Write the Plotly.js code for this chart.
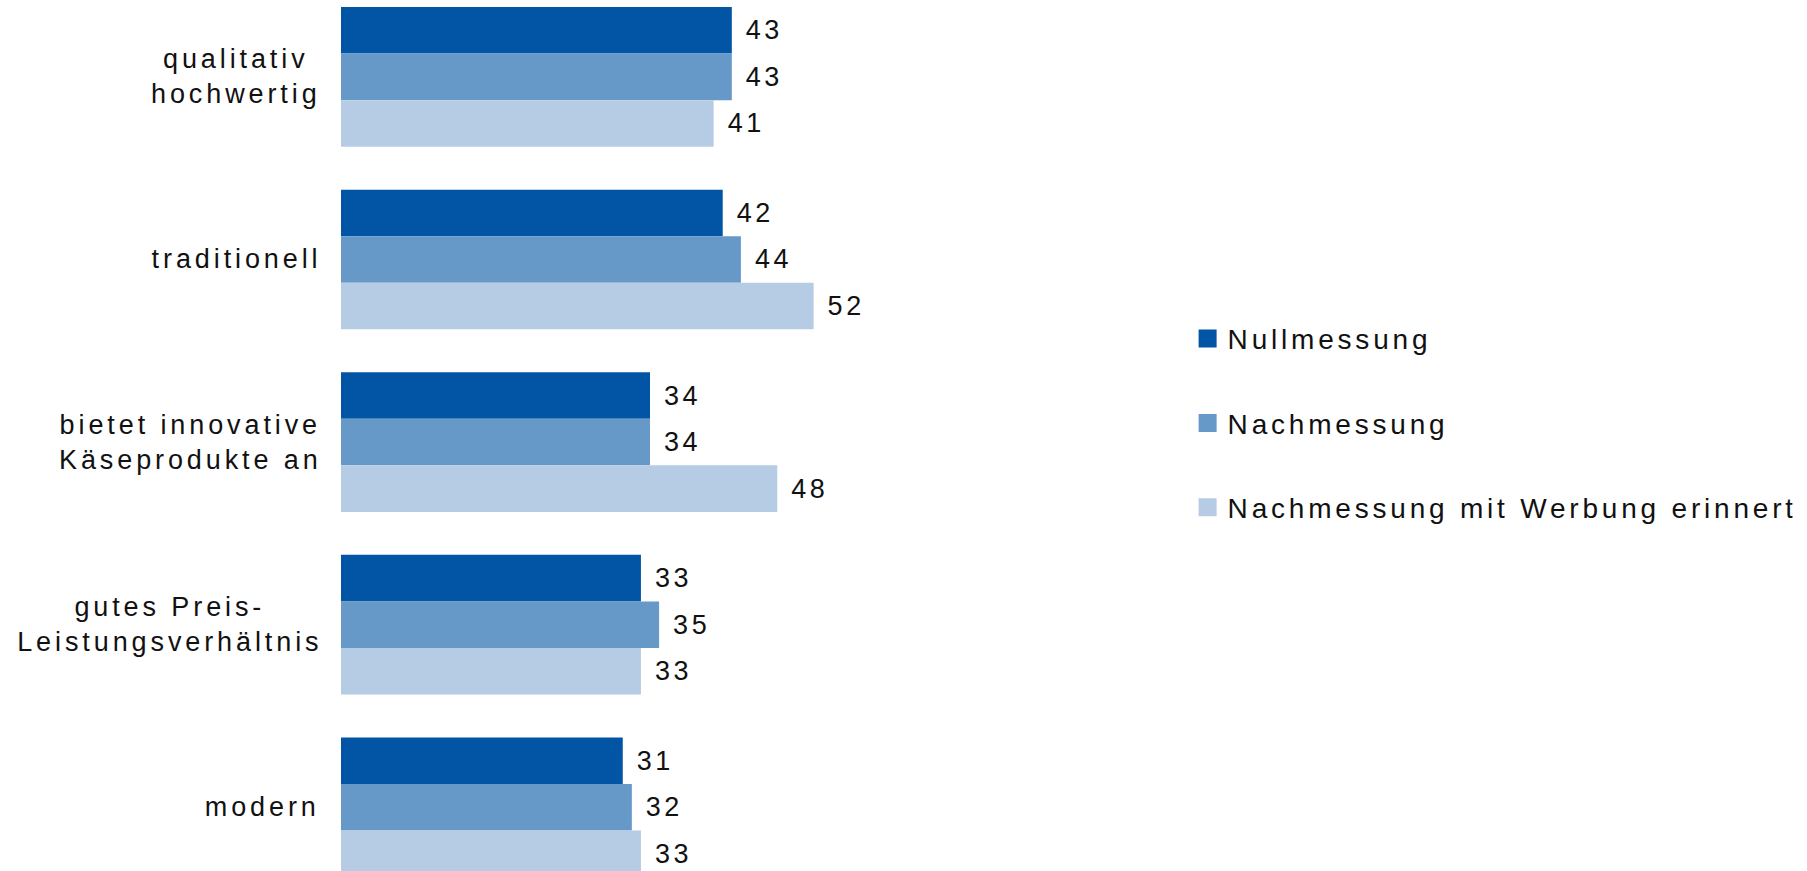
<!DOCTYPE html>
<html>
<head>
<meta charset="utf-8">
<script src="https://cdn.plot.ly/plotly-3.0.1.min.js"></script>
<style>
  html, body { margin: 0; padding: 0; background: #fff; }
  #chart { width: 1807px; height: 871px; }
  text { letter-spacing: 3.5px !important; }
  .annotation text { letter-spacing: 3.9px !important; }
  .legend text { letter-spacing: 3.8px !important; }
  .legend .legendpoints path { d: path("M9,9H-9V-9H9Z"); }
</style>
</head>
<body>
<div id="chart"></div>
<script>
// Categories (top to bottom)
const categories = [
  "qualitativ<br>hochwertig",
  "traditionell",
  "bietet innovative<br>Käseprodukte an",
  "gutes Preis-<br>Leistungsverhältnis",
  "modern"
];
const seriesNames = ["Nullmessung", "Nachmessung", "Nachmessung mit Werbung erinnert"];
const nullmessung = [43, 42, 34, 33, 31];
const nachmessung = [43, 44, 34, 35, 32];
const nachmessungWerbung = [41, 52, 48, 33, 33];
const colors = ["#0254A5", "#6698C8", "#B5CCE4"];

const seriesValues = [nullmessung, nachmessung, nachmessungWerbung];
const FONT = "'Liberation Sans', Arial, sans-serif";

const traces = seriesValues.map((vals, i) => ({
  type: "bar",
  orientation: "h",
  name: seriesNames[i],
  legendgroup: "g" + i,
  x: vals,
  y: categories,
  marker: { color: colors[i], line: { width: 0 } },
  text: vals.map(v => String(v)),
  texttemplate: "\u00a0%{text}",
  textposition: "outside",
  textfont: { family: FONT, size: 27, color: "#111111" },
  cliponaxis: false,
  hoverinfo: "x+name"
}));

const annotations = categories.map(c => ({
  xref: "paper",
  yref: "y",
  x: 0,
  y: c,
  xanchor: "right",
  yanchor: "middle",
  align: "center",
  xshift: -20,
  text: c,
  showarrow: false,
  font: { family: FONT, size: 27, color: "#111111" }
}));

const layout = {
  width: 1807,
  height: 871,
  margin: { l: 341, r: 0, t: 0, b: 0, pad: 0 },
  paper_bgcolor: "#ffffff",
  plot_bgcolor: "#ffffff",
  barmode: "group",
  bargap: 0.235,
  bargroupgap: 0,
  showlegend: true,
  legend: {
    x: 0.5775,
    y: 0.514,
    xanchor: "left",
    yanchor: "middle",
    traceorder: "grouped",
    tracegroupgap: 45,
    font: { family: FONT, size: 28, color: "#111111" },
    bgcolor: "rgba(0,0,0,0)"
  },
  xaxis: {
    range: [0, 161.3],
    visible: false,
    fixedrange: true
  },
  yaxis: {
    type: "category",
    range: [4.349, -0.421],
    showticklabels: false,
    showgrid: false,
    zeroline: false,
    showline: false,
    ticks: "",
    fixedrange: true
  },
  annotations: annotations,
  font: { family: FONT, color: "#111111" }
};

Plotly.newPlot("chart", traces, layout, { displayModeBar: false, staticPlot: false });
</script>
</body>
</html>
